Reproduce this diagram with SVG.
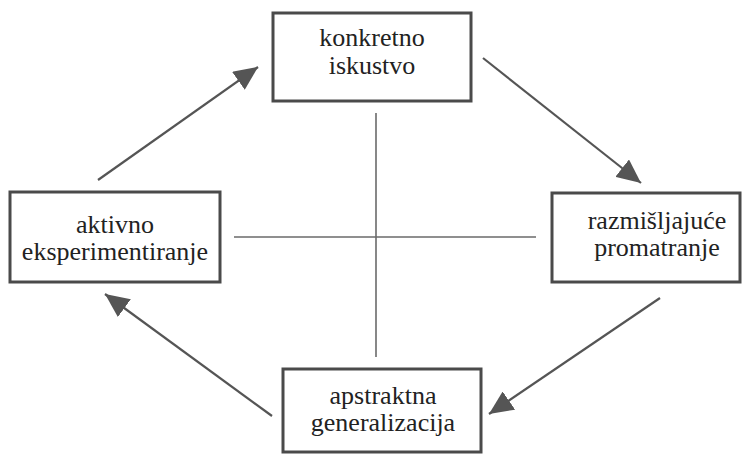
<svg xmlns="http://www.w3.org/2000/svg" width="746" height="456" viewBox="0 0 746 456">
<style>
.box{fill:#fff;stroke:#4a4a4a;stroke-width:3}
.lbl{font-family:Liberation Serif,DejaVu Serif,serif;font-size:26px;fill:#222;text-anchor:middle}
.arr{stroke:#555;stroke-width:2.2;fill:none;marker-end:url(#ah)}
.axis{stroke:#6a6a6a;stroke-width:1.6}
</style>
<defs>
<marker id="ah" markerUnits="userSpaceOnUse" markerWidth="26" markerHeight="22" refX="24" refY="11" orient="auto">
<path d="M0,0 L24,11 L0,22 Z" fill="#555"/>
</marker>
</defs>
<rect width="746" height="456" fill="#fff"/>
<g id="connectors">
<line class="axis" x1="376" y1="113" x2="376" y2="357"/>
<line class="axis" x1="234" y1="237" x2="536" y2="237"/>
<line class="arr" x1="98" y1="180" x2="258" y2="67"/>
<line class="arr" x1="483" y1="58" x2="641" y2="183"/>
<line class="arr" x1="660" y1="298" x2="489" y2="414"/>
<line class="arr" x1="272" y1="416" x2="105" y2="294"/>
</g>
<g id="konkretno">
<rect class="box" x="273" y="13" width="198" height="88"/>
<text class="lbl" x="372" y="46" font-family="Liberation Serif">konkretno</text>
<text class="lbl" x="372" y="74" font-family="Liberation Serif">iskustvo</text>
</g>
<g id="razmisljajuce">
<rect class="box" x="552" y="193" width="188" height="89"/>
<text class="lbl" x="657" y="229" font-family="Liberation Serif">razmišljajuće</text>
<text class="lbl" x="657" y="256" font-family="Liberation Serif">promatranje</text>
</g>
<g id="apstraktna">
<rect class="box" x="283" y="369" width="198" height="83"/>
<text class="lbl" x="383" y="404" font-family="Liberation Serif">apstraktna</text>
<text class="lbl" x="383" y="431" font-family="Liberation Serif">generalizacija</text>
</g>
<g id="aktivno">
<rect class="box" x="10" y="192" width="210" height="90"/>
<text class="lbl" x="115" y="233" font-family="Liberation Serif">aktivno</text>
<text class="lbl" x="115" y="260" font-family="Liberation Serif">eksperimentiranje</text>
</g>
</svg>
